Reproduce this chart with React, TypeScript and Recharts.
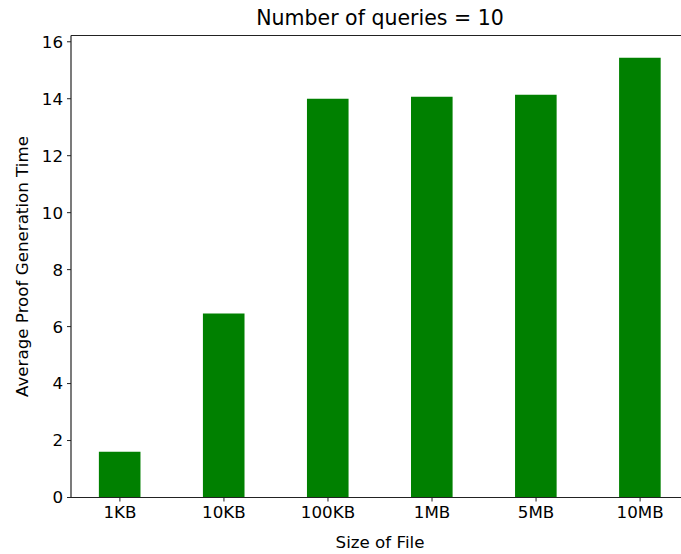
import { BarChart, Bar, XAxis, YAxis, ReferenceLine } from "recharts";

const fileSizes = ["1KB", "10KB", "100KB", "1MB", "5MB", "10MB"];
const proofTimes = [1.61, 6.46, 14.0, 14.07, 14.14, 15.44];
const yTicks = [0, 2, 4, 6, 8, 10, 12, 14, 16];

const data = fileSizes.map((name, i) => ({ idx: i, name, time: proofTimes[i] }));

const FONT = "'DejaVu Sans', sans-serif";
const SPINE = "#222";

export default function App() {
  return (
    <div
      style={{
        position: "absolute",
        left: 0,
        top: 0,
        width: 681,
        height: 554,
        overflow: "hidden",
        background: "#fff",
      }}
    >
      <div
        style={{
          position: "absolute",
          left: 71,
          width: 618,
          top: 4,
          textAlign: "center",
          fontFamily: FONT,
          fontSize: 20.5,
          lineHeight: "28px",
          color: "#000",
        }}
      >
        Number of queries = 10
      </div>
      <BarChart
        width={700}
        height={554}
        data={data}
        margin={{ top: 35.5, right: 11, bottom: 0, left: 0 }}
      >
        <XAxis
          dataKey="idx"
          type="number"
          scale="linear"
          domain={[-0.47, 5.47]}
          ticks={[0, 1, 2, 3, 4, 5]}
          tickFormatter={(v: number) => fileSizes[v]}
          interval={0}
          height={56.5}
          tickSize={4}
          tickMargin={5}
          axisLine={{ stroke: SPINE, strokeWidth: 1.2 }}
          tickLine={{ stroke: SPINE }}
          tick={{ fill: "#000", fontFamily: FONT, fontSize: 16.7 }}
          label={{
            value: "Size of File",
            position: "insideBottom",
            offset: 6,
            fill: "#000",
            fontFamily: FONT,
            fontSize: 16.7,
          }}
        />
        <YAxis
          type="number"
          domain={[0, 16.22]}
          ticks={yTicks}
          allowDataOverflow
          width={71}
          tickSize={4}
          tickMargin={4}
          axisLine={{ stroke: SPINE, strokeWidth: 1.2 }}
          tickLine={{ stroke: SPINE }}
          tick={{ fill: "#000", fontFamily: FONT, fontSize: 16.7 }}
          label={(props: any) => {
            const vb = props.viewBox;
            const cy = vb.y + vb.height / 2;
            return (
              <text
                x={22}
                y={cy}
                transform={`rotate(-90, 22, ${cy})`}
                textAnchor="middle"
                dominantBaseline="central"
                fill="#000"
                fontFamily={FONT}
                fontSize={16.7}
              >
                Average Proof Generation Time
              </text>
            );
          }}
        />
        <ReferenceLine y={16.22} stroke={SPINE} strokeWidth={1.2} />
        <Bar dataKey="time" fill="#008000" barSize={41.6} isAnimationActive={false} />
      </BarChart>
    </div>
  );
}
